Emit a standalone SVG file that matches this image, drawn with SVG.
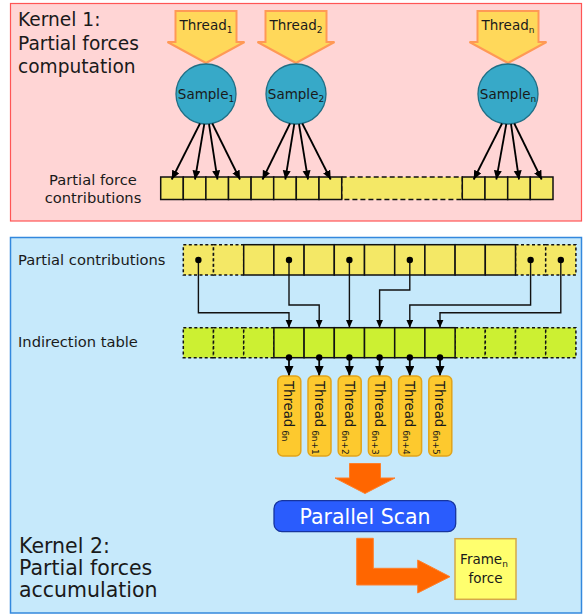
<svg xmlns="http://www.w3.org/2000/svg" width="583" height="615" viewBox="0 0 583 615">
<defs>
<style>
text{font-family:"DejaVu Sans","Liberation Sans",sans-serif;fill:#1a1a1a}
.big{font-size:18.6px}
.big2{font-size:20.5px}
.lbl{font-size:14.7px}
.sm{font-size:13.5px}
.sub{font-size:9px}
.thr{fill:#ffd85a;stroke:#ff9955;stroke-width:2}
.smp{fill:#37a9c8;stroke:#1f6f86;stroke-width:1.3}
.cy{fill:#f4e866;stroke:#111;stroke-width:1.5}
.cyd{fill:#f4e866;stroke:#111;stroke-width:1.5;stroke-dasharray:3,2.5}
.cyd2{fill:#f4e866;stroke:#111;stroke-width:1.3;stroke-dasharray:5,3}
.cg{fill:#ccf032;stroke:#111;stroke-width:1.5}
.cgd{fill:#ccf032;stroke:#111;stroke-width:1.5;stroke-dasharray:3,2.5}
.ln{fill:none;stroke:#000;stroke-width:1.8}
.ln2{fill:none;stroke:#111;stroke-width:1.4}
.pill{fill:#fdc92e;stroke:#e2a41a;stroke-width:1.5}
.ptxt{font-size:13.2px}
.orange{fill:#ff6600;stroke:#ff7f2a;stroke-width:1}
</style>
<marker id="ah" markerUnits="userSpaceOnUse" markerWidth="10" markerHeight="10" refX="9" refY="4" orient="auto"><path d="M0,0 L9,4 L0,8 Z" fill="#000"/></marker>
<marker id="ah2" markerUnits="userSpaceOnUse" markerWidth="10" markerHeight="10" refX="8" refY="3.5" orient="auto"><path d="M0,0 L8,3.5 L0,7 Z" fill="#000"/></marker>
<marker id="ah3" markerUnits="userSpaceOnUse" markerWidth="12" markerHeight="12" refX="10" refY="4.5" orient="auto"><path d="M0,0 L10,4.5 L0,9 Z" fill="#000"/></marker>
<marker id="dot" markerUnits="userSpaceOnUse" markerWidth="8" markerHeight="8" refX="4" refY="4"><circle cx="4" cy="4" r="3.2" fill="#000"/></marker>
</defs>

<!-- Panels -->
<g id="kernel1">
<rect x="10.5" y="3.5" width="571" height="217.5" fill="#ffd5d5" stroke="#ff5555" stroke-width="1.2"/>
<text class="big" x="18" y="26">Kernel 1:</text>
<text class="big" x="18" y="50">Partial forces</text>
<text class="big" x="18" y="73">computation</text>
</g>
<g id="kernel2">
<rect x="10.5" y="237.5" width="571" height="375.5" fill="#c6e9fb" stroke="#3388dd" stroke-width="1.5"/>
<text class="big2" x="19" y="553">Kernel 2:</text>
<text class="big2" x="19" y="575">Partial forces</text>
<text class="big2" x="19" y="597">accumulation</text>
</g>

<!-- Threads (kernel 1) -->
<g id="thread1"><path class="thr" d="M175.5,11 H236.5 V42 H244.5 L206,63 L167.5,42 H175.5 Z"/><text class="sm" x="206" y="30" text-anchor="middle">Thread<tspan class="sub" dy="3">1</tspan></text></g>
<g id="thread2"><path class="thr" d="M265.5,11 H326.5 V42 H334.5 L296,63 L257.5,42 H265.5 Z"/><text class="sm" x="296" y="30" text-anchor="middle">Thread<tspan class="sub" dy="3">2</tspan></text></g>
<g id="threadn"><path class="thr" d="M477.5,11 H538.5 V42 H546.5 L508,63 L469.5,42 H477.5 Z"/><text class="sm" x="508" y="30" text-anchor="middle">Thread<tspan class="sub" dy="3">n</tspan></text></g>

<!-- Samples -->
<g id="sample1"><circle class="smp" cx="206" cy="94" r="30"/><text class="sm" x="206" y="98.5" text-anchor="middle">Sample<tspan class="sub" dy="3">1</tspan></text></g>
<g id="sample2"><circle class="smp" cx="296" cy="94" r="30"/><text class="sm" x="296" y="98.5" text-anchor="middle">Sample<tspan class="sub" dy="3">2</tspan></text></g>
<g id="samplen"><circle class="smp" cx="508" cy="94" r="30"/><text class="sm" x="508" y="98.5" text-anchor="middle">Sample<tspan class="sub" dy="3">n</tspan></text></g>

<!-- Partial force contributions -->
<g id="partial-force-contributions">
<text class="lbl" x="93" y="185" text-anchor="middle">Partial force</text>
<text class="lbl" x="93" y="203" text-anchor="middle">contributions</text>
<rect class="cyd2" x="341.7" y="177" width="120.6" height="22.5"/>
<rect class="cy" x="160.7" y="177" width="22.6" height="22.5"/>
<rect class="cy" x="183.3" y="177" width="22.6" height="22.5"/>
<rect class="cy" x="205.9" y="177" width="22.6" height="22.5"/>
<rect class="cy" x="228.5" y="177" width="22.6" height="22.5"/>
<rect class="cy" x="251.1" y="177" width="22.6" height="22.5"/>
<rect class="cy" x="273.7" y="177" width="22.6" height="22.5"/>
<rect class="cy" x="296.3" y="177" width="22.7" height="22.5"/>
<rect class="cy" x="319" y="177" width="22.7" height="22.5"/>
<rect class="cy" x="462.3" y="177" width="22.7" height="22.5"/>
<rect class="cy" x="485" y="177" width="22.7" height="22.5"/>
<rect class="cy" x="507.7" y="177" width="22.6" height="22.5"/>
<rect class="cy" x="530.3" y="177" width="22.7" height="22.5"/>
</g>

<!-- Partial contributions row -->
<g id="partial-contributions">
<text class="lbl" x="18" y="265">Partial contributions</text>
<rect class="cyd" x="183.3" y="244.7" width="30.2" height="30.3"/>
<rect class="cyd" x="213.5" y="244.7" width="30.2" height="30.3"/>
<rect class="cyd" x="515.5" y="244.7" width="30.2" height="30.3"/>
<rect class="cyd" x="545.7" y="244.7" width="30.2" height="30.3"/>
<rect class="cy" x="243.7" y="244.7" width="30.2" height="30.3"/>
<rect class="cy" x="273.9" y="244.7" width="30.2" height="30.3"/>
<rect class="cy" x="304.1" y="244.7" width="30.2" height="30.3"/>
<rect class="cy" x="334.3" y="244.7" width="30.2" height="30.3"/>
<rect class="cy" x="364.5" y="244.7" width="30.2" height="30.3"/>
<rect class="cy" x="394.7" y="244.7" width="30.2" height="30.3"/>
<rect class="cy" x="424.9" y="244.7" width="30.2" height="30.3"/>
<rect class="cy" x="455.1" y="244.7" width="30.2" height="30.3"/>
<rect class="cy" x="485.3" y="244.7" width="30.2" height="30.3"/>
</g>

<!-- Indirection table -->
<g id="indirection-table">
<text class="lbl" x="18" y="347">Indirection table</text>
<rect class="cgd" x="183.3" y="327.7" width="30.2" height="30"/>
<rect class="cgd" x="213.5" y="327.7" width="30.2" height="30"/>
<rect class="cgd" x="243.7" y="327.7" width="30.2" height="30"/>
<rect class="cgd" x="455.1" y="327.7" width="30.2" height="30"/>
<rect class="cgd" x="485.3" y="327.7" width="30.2" height="30"/>
<rect class="cgd" x="515.5" y="327.7" width="30.2" height="30"/>
<rect class="cgd" x="545.7" y="327.7" width="30.2" height="30"/>
<rect class="cg" x="273.9" y="327.7" width="30.2" height="30"/>
<rect class="cg" x="304.1" y="327.7" width="30.2" height="30"/>
<rect class="cg" x="334.3" y="327.7" width="30.2" height="30"/>
<rect class="cg" x="364.5" y="327.7" width="30.2" height="30"/>
<rect class="cg" x="394.7" y="327.7" width="30.2" height="30"/>
<rect class="cg" x="424.9" y="327.7" width="30.2" height="30"/>
</g>

<!-- Connectors -->
<g id="connectors">
<path class="ln" marker-end="url(#ah)" d="M200,123.5 L171.7,179.5"/>
<path class="ln" marker-end="url(#ah)" d="M204.3,124 L195,179.5"/>
<path class="ln" marker-end="url(#ah)" d="M209,124 L217.5,179.5"/>
<path class="ln" marker-end="url(#ah)" d="M212.3,123.5 L240,179.5"/>
<path class="ln" marker-end="url(#ah)" d="M290,123.5 L262.5,179.5"/>
<path class="ln" marker-end="url(#ah)" d="M294.3,124 L285.3,179.5"/>
<path class="ln" marker-end="url(#ah)" d="M299,124 L308,179.5"/>
<path class="ln" marker-end="url(#ah)" d="M302.3,123.5 L330.7,179.5"/>
<path class="ln" marker-end="url(#ah)" d="M502,123.5 L473.7,179.5"/>
<path class="ln" marker-end="url(#ah)" d="M506.3,124 L496.3,179.5"/>
<path class="ln" marker-end="url(#ah)" d="M511,124 L519,179.5"/>
<path class="ln" marker-end="url(#ah)" d="M514.3,123.5 L541.7,179.5"/>

<path class="ln2" marker-start="url(#dot)" marker-end="url(#ah2)" d="M198.4,260 V312.7 H289 V327.7"/>
<path class="ln2" marker-start="url(#dot)" marker-end="url(#ah2)" d="M289,260 V305 H319.2 V327.7"/>
<path class="ln2" marker-start="url(#dot)" marker-end="url(#ah2)" d="M349.4,260 V327.7"/>
<path class="ln2" marker-start="url(#dot)" marker-end="url(#ah2)" d="M409.8,260 V290 H379.6 V327.7"/>
<path class="ln2" marker-start="url(#dot)" marker-end="url(#ah2)" d="M530.6,260 V305 H409.8 V327.7"/>
<path class="ln2" marker-start="url(#dot)" marker-end="url(#ah2)" d="M560.8,260 V312.7 H440 V327.7"/>

<path class="ln" marker-start="url(#dot)" marker-end="url(#ah3)" d="M289,357.5 V376"/>
<path class="ln" marker-start="url(#dot)" marker-end="url(#ah3)" d="M319.2,357.5 V376"/>
<path class="ln" marker-start="url(#dot)" marker-end="url(#ah3)" d="M349.4,357.5 V376"/>
<path class="ln" marker-start="url(#dot)" marker-end="url(#ah3)" d="M379.6,357.5 V376"/>
<path class="ln" marker-start="url(#dot)" marker-end="url(#ah3)" d="M409.8,357.5 V376"/>
<path class="ln" marker-start="url(#dot)" marker-end="url(#ah3)" d="M440,357.5 V376"/>

<path class="orange" d="M349.5,463.5 H380.5 V478 H395 L365,493.5 L335,478 H349.5 Z"/>
<path class="orange" d="M356.7,538.3 H373.3 V568.3 H417.7 V560 L450,576.7 L417.7,593 V585 H356.7 Z"/>
</g>

<!-- Threads (kernel 2) -->
<g id="thread6n"><rect class="pill" x="277.8" y="376" width="23" height="80" rx="5"/><text class="ptxt" transform="translate(284.3,381) rotate(90)">Thread<tspan class="sub" dx="3" dy="2.5">6n</tspan></text></g>
<g id="thread6n1"><rect class="pill" x="308" y="376" width="23" height="80" rx="5"/><text class="ptxt" transform="translate(314.5,381) rotate(90)">Thread<tspan class="sub" dx="3" dy="2.5">6n+1</tspan></text></g>
<g id="thread6n2"><rect class="pill" x="338.2" y="376" width="23" height="80" rx="5"/><text class="ptxt" transform="translate(344.7,381) rotate(90)">Thread<tspan class="sub" dx="3" dy="2.5">6n+2</tspan></text></g>
<g id="thread6n3"><rect class="pill" x="368.4" y="376" width="23" height="80" rx="5"/><text class="ptxt" transform="translate(374.9,381) rotate(90)">Thread<tspan class="sub" dx="3" dy="2.5">6n+3</tspan></text></g>
<g id="thread6n4"><rect class="pill" x="398.6" y="376" width="23" height="80" rx="5"/><text class="ptxt" transform="translate(405.1,381) rotate(90)">Thread<tspan class="sub" dx="3" dy="2.5">6n+4</tspan></text></g>
<g id="thread6n5"><rect class="pill" x="428.8" y="376" width="23" height="80" rx="5"/><text class="ptxt" transform="translate(435.3,381) rotate(90)">Thread<tspan class="sub" dx="3" dy="2.5">6n+5</tspan></text></g>

<!-- Parallel scan -->
<g id="parallel-scan"><rect x="274" y="500.7" width="181.7" height="31" rx="8" fill="#2a5cfd" stroke="#16349e" stroke-width="1.3"/><text x="365" y="524" text-anchor="middle" style="font-size:20.5px;fill:#ffffff">Parallel Scan</text></g>

<!-- Frame force -->
<g id="frame-force"><rect x="455" y="538.7" width="61" height="60.6" fill="#ffff6e" stroke="#d4a84a" stroke-width="1.5"/><text class="sm" x="484" y="564" text-anchor="middle">Frame<tspan class="sub" dy="3">n</tspan></text><text class="sm" x="485.5" y="583" text-anchor="middle">force</text></g>
</svg>
